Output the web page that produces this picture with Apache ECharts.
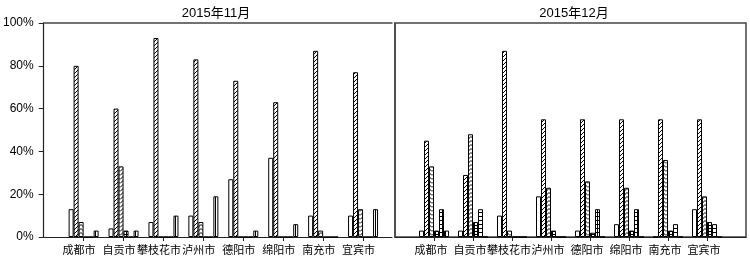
<!DOCTYPE html>
<html>
<head>
<meta charset="utf-8">
<script src="https://cdn.jsdelivr.net/npm/echarts@6/dist/echarts.min.js"></script>
<style>html,body{margin:0;padding:0;background:#fff;}#c{width:750px;height:261px;}</style>
</head>
<body>
<div id="c"></div>
<script>
// ---- data ----
const cities = ['成都市', '自贡市', '攀枝花市', '泸州市', '德阳市', '绵阳市', '南充市', '宜宾市'];
const panelTitles = ['2015年11月', '2015年12月'];
const yTickValues = [0, 20, 40, 60, 80, 100];

// 2015年11月
const novS1 = [13, 4, 7, 10, 27, 37, 10, 10];
const novS2 = [80, 60, 93, 83, 73, 63, 87, 77];
const novS3 = [7, 33, 0, 7, 0, 0, 3, 13];
const novS4 = [0, 3, 0, 0, 0, 0, 0, 0];
const novS5 = [0, 0, 0, 0, 0, 0, 0, 0];
const novS6 = [3, 3, 10, 19, 3, 6, 0, 13];

// 2015年12月
const decS1 = [3, 3, 10, 19, 3, 6, 0, 13];
const decS2 = [45, 29, 87, 55, 55, 55, 55, 55];
const decS3 = [33, 48, 3, 23, 26, 23, 36, 19];
const decS4 = [3, 7, 0, 3, 2, 3, 3, 7];
const decS5 = [13, 13, 0, 0, 13, 13, 6, 6];
const decS6 = [3, 0, 0, 0, 0, 0, 0, 0];

// ---- patterns ----
function tile(w, h, draw) {
  const c = document.createElement('canvas');
  c.width = w; c.height = h;
  const g = c.getContext('2d');
  g.fillStyle = '#fff'; g.fillRect(0, 0, w, h);
  g.strokeStyle = '#000'; g.fillStyle = '#000'; g.lineWidth = 1;
  draw(g);
  return { image: c, repeat: 'repeat' };
}
const patWhite = '#ffffff';
const patDiag = tile(4, 4, g => {
  g.beginPath();
  g.moveTo(0, 4); g.lineTo(4, 0);
  g.moveTo(-1, 1); g.lineTo(1, -1);
  g.moveTo(3, 5); g.lineTo(5, 3);
  g.stroke();
});
const patChevron = tile(6, 4, g => {
  g.beginPath();
  g.moveTo(0, 3.5); g.lineTo(3, 0.5); g.lineTo(6, 3.5);
  g.stroke();
});
const patSmallGrid = tile(3, 3, g => {
  g.fillRect(0, 0, 3, 1); g.fillRect(0, 0, 1, 3);
});
const patGrid = tile(5, 4, g => {
  g.fillRect(0, 0, 5, 1); g.fillRect(2, 0, 1, 4);
});
const patVert = tile(5, 1, g => { g.fillRect(0, 0, 1, 1); });

const patterns = [patWhite, patDiag, patChevron, patSmallGrid, patGrid, patVert];
const novData = [novS1, novS2, novS3, novS4, novS5, novS6];
const decData = [decS1, decS2, decS3, decS4, decS5, decS6];

const font = 'Liberation Sans, Arial, Noto Sans CJK SC, sans-serif';
const catIdx = cities.map((c, i) => i + 1);

function mkSeries(arrs, axisIdx) {
  return arrs.map((arr, k) => ({
    type: 'bar',
    xAxisIndex: axisIdx, yAxisIndex: axisIdx,
    data: arr.map((v, i) => [i + 1, v]),
    barWidth: 5, barGap: '0%',
    itemStyle: { color: patterns[k], borderColor: '#000', borderWidth: 1 },
    emphasis: { disabled: true },
    animation: false
  }));
}

function mkX(gridIndex, max, shift) {
  return {
    type: 'value', gridIndex, min: 0, max, interval: 1,
    axisLine: { show: true, lineStyle: { color: '#222', width: 1.2 } },
    axisTick: { show: true, length: 4, customValues: catIdx, lineStyle: { color: '#222' } },
    axisLabel: {
      customValues: catIdx, formatter: v => cities[v - 1] || '',
      color: '#000', fontSize: 11, fontFamily: font, margin: 8,
      padding: [0, shift, 0, 0]
    },
    splitLine: { show: false }
  };
}

const chart = echarts.init(document.getElementById('c'), null, { renderer: 'canvas' });
chart.setOption({
  animation: false,
  backgroundColor: '#fff',
  title: [
    { text: panelTitles[0], left: 211, top: 2, textAlign: 'center',
      textStyle: { fontSize: 13, fontWeight: 'normal', color: '#000', fontFamily: font } },
    { text: panelTitles[1], left: 569, top: 2, textAlign: 'center',
      textStyle: { fontSize: 13, fontWeight: 'normal', color: '#000', fontFamily: font } }
  ],
  grid: [
    { left: 43, top: 23, width: 349, height: 214, show: false },
    { left: 395, top: 23, width: 351, height: 214, show: true, borderColor: '#444', borderWidth: 1.5, backgroundColor: 'transparent' }
  ],
  xAxis: [
    mkX(0, 349 / 40, 9),
    mkX(1, 9, 6),
    { type: 'value', gridIndex: 0, position: 'top', min: 0, max: 349 / 40,
      axisLine: { show: true, lineStyle: { color: '#444', width: 1.5 } },
      axisTick: { show: false }, axisLabel: { show: false }, splitLine: { show: false } }
  ],
  yAxis: [
    { type: 'value', gridIndex: 0, min: 0, max: 100, interval: 20,
      axisLine: { show: true, lineStyle: { color: '#222', width: 1.2 } },
      axisTick: { show: true, length: 5, inside: false, lineStyle: { color: '#222' } },
      axisLabel: { formatter: v => yTickValues.includes(v) ? v + '%' : '', color: '#000', fontSize: 12, fontFamily: font, margin: 10 },
      splitLine: { show: false } },
    { type: 'value', gridIndex: 1, min: 0, max: 100, interval: 20,
      axisLine: { show: true, lineStyle: { color: '#444', width: 1.5 } },
      axisTick: { show: false }, axisLabel: { show: false }, splitLine: { show: false } }
  ],
  series: [].concat(mkSeries(novData, 0), mkSeries(decData, 1))
});
</script>
</body>
</html>
